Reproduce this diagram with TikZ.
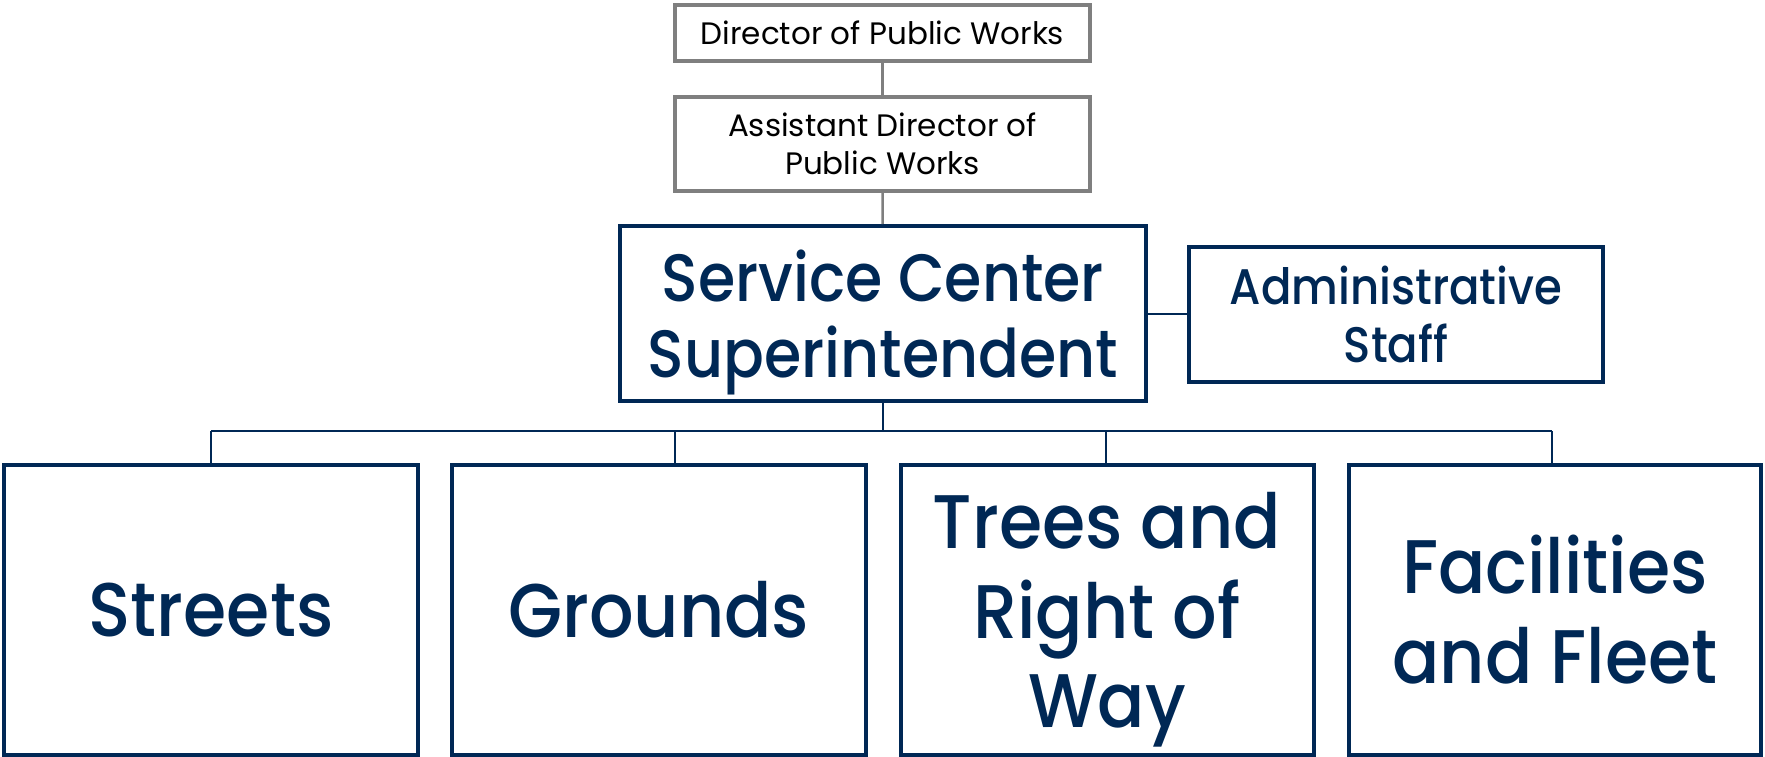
\documentclass[tikz,border=0pt]{standalone}
\usepackage{fontspec}
\setmainfont{Poppins}
\newfontfamily\unitfont[FakeStretch=0.92]{Poppins Medium}
\newfontfamily\headfont[FakeStretch=0.90]{Poppins Medium}
\usetikzlibrary{calc}
\definecolor{navy}{RGB}{0,40,85}
\definecolor{boxgrey}{RGB}{127,127,127}

\begin{document}
\begin{tikzpicture}[x=1pt, y=-1pt,
	greybox/.style={draw=boxgrey, line width=4pt, align=center, inner sep=0pt, text=black, font=\fontsize{31}{38}\selectfont},
	unitbox/.style={draw=navy, line width=4pt, align=center, inner sep=0pt, text=navy},
	teambox/.style={unitbox, minimum height=290pt, font=\unitfont\fontsize{76}{89.5}\selectfont},
	greylink/.style={draw=boxgrey, line width=2.5pt},
	link/.style={draw=navy, line width=2pt}]
	\useasboundingbox (0,0) rectangle (1765,757);

	\node[greybox, minimum width=415pt, minimum height=56pt] (director) at (882.5,33) {Director of Public Works};
	\node[greybox, minimum width=415pt, minimum height=94pt] (assistant) at (882.5,144) {Assistant Director of\\Public Works};
	\node[unitbox, minimum width=526pt, minimum height=175pt, text depth=0pt, font=\headfont\fontsize{67}{76}\selectfont] (service) at (883,313.5) {Service Center\\Superintendent};
	\node[unitbox, minimum width=414pt, minimum height=135pt, font=\headfont\fontsize{50}{58}\selectfont] (admin) at (1396,314.5) {Administrative\\Staff};

	\node[teambox, minimum width=414pt] (streets) at (211,610) {Streets};
	\node[teambox, minimum width=414.5pt] (grounds) at (658.75,610) {Grounds};
	\node[teambox, minimum width=413pt, text depth=0pt] (trees) at (1107,610) {Trees and\\Right of\\Way};
	\node[teambox, minimum width=412pt] (facilities) at (1555,609.5) {Facilities\\and Fleet};

	\draw[greylink] (director) -- (assistant);
	\draw[greylink] (assistant) -- (service);
	\draw[link] (service.east) -- (service.east -| admin.west);

	\coordinate (bS) at (211,431);
	\coordinate (bG) at (675,431);
	\coordinate (bT) at (1106,431);
	\coordinate (bF) at (1551.5,431);
	\draw[link] (service.south) -- (service.south |- bS);
	\draw[link] (bS) -- (bF);
	\draw[link] (bS) -- (bS |- streets.north);
	\draw[link] (bG) -- (bG |- grounds.north);
	\draw[link] (bT) -- (bT |- trees.north);
	\draw[link] (bF) -- (bF |- facilities.north);

\end{tikzpicture}
\end{document}
